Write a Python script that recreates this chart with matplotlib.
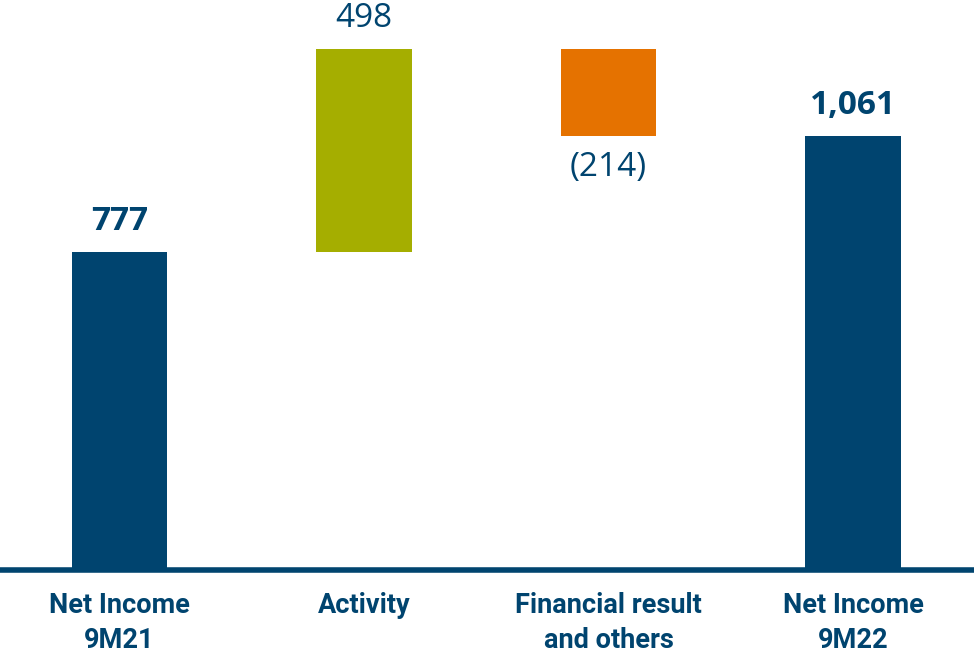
import numpy as np
import matplotlib.pyplot as plt

# data
categories = ["Net Income\n9M21", "Activity", "Financial result\nand others", "Net Income\n9M22"]
values = [777, 498, -214, 1061]
value_labels = ["777", "498", "(214)", "1,061"]
is_total = [True, False, False, True]

navy = "#00446f"
colors = [navy, "#a5ae00", "#e57200", navy]

# waterfall bottoms
bottoms = []
running = 0
for v, tot in zip(values, is_total):
    if tot:
        bottoms.append(0)
        running = v
    else:
        bottoms.append(running + min(v, 0))
        running += v
heights = [abs(v) for v in values]

fig = plt.figure(figsize=(9.74, 6.54), dpi=100)
ax = fig.add_axes([0, (654 - 568) / 654, 1, 568 / 654])
x = np.arange(len(categories))
ax.bar(x, heights, bottom=bottoms, width=0.39, color=colors, zorder=2)
ax.set_xlim(-0.489, 3.495)
ax.set_ylim(0, 1395)
ax.axis("off")

# baseline
ax.axhline(-4, color=navy, lw=4, zorder=3, clip_on=False)

# value labels
for i, (v, lab, tot) in enumerate(zip(values, value_labels, is_total)):
    top = bottoms[i] + heights[i]
    if v >= 0:
        ax.annotate(lab, (x[i], top), xytext=(0, 22), textcoords="offset points",
                    ha="center", va="center", fontsize=24, color=navy,
                    fontweight="bold" if tot else "normal", family="Open Sans")
    else:
        ax.annotate(lab, (x[i], bottoms[i]), xytext=(0, -23), textcoords="offset points",
                    ha="center", va="center", fontsize=24, color=navy,
                    fontweight="bold" if tot else "normal", family="Open Sans")

# category labels
for i, c in enumerate(categories):
    ax.annotate(c, (x[i], 0), xytext=(0, -17.5), textcoords="offset points",
                ha="center", va="top", fontsize=19.5, color=navy, fontweight="bold",
                family="Roboto", linespacing=1.35, annotation_clip=False)

fig.savefig("out.png", dpi=100)
